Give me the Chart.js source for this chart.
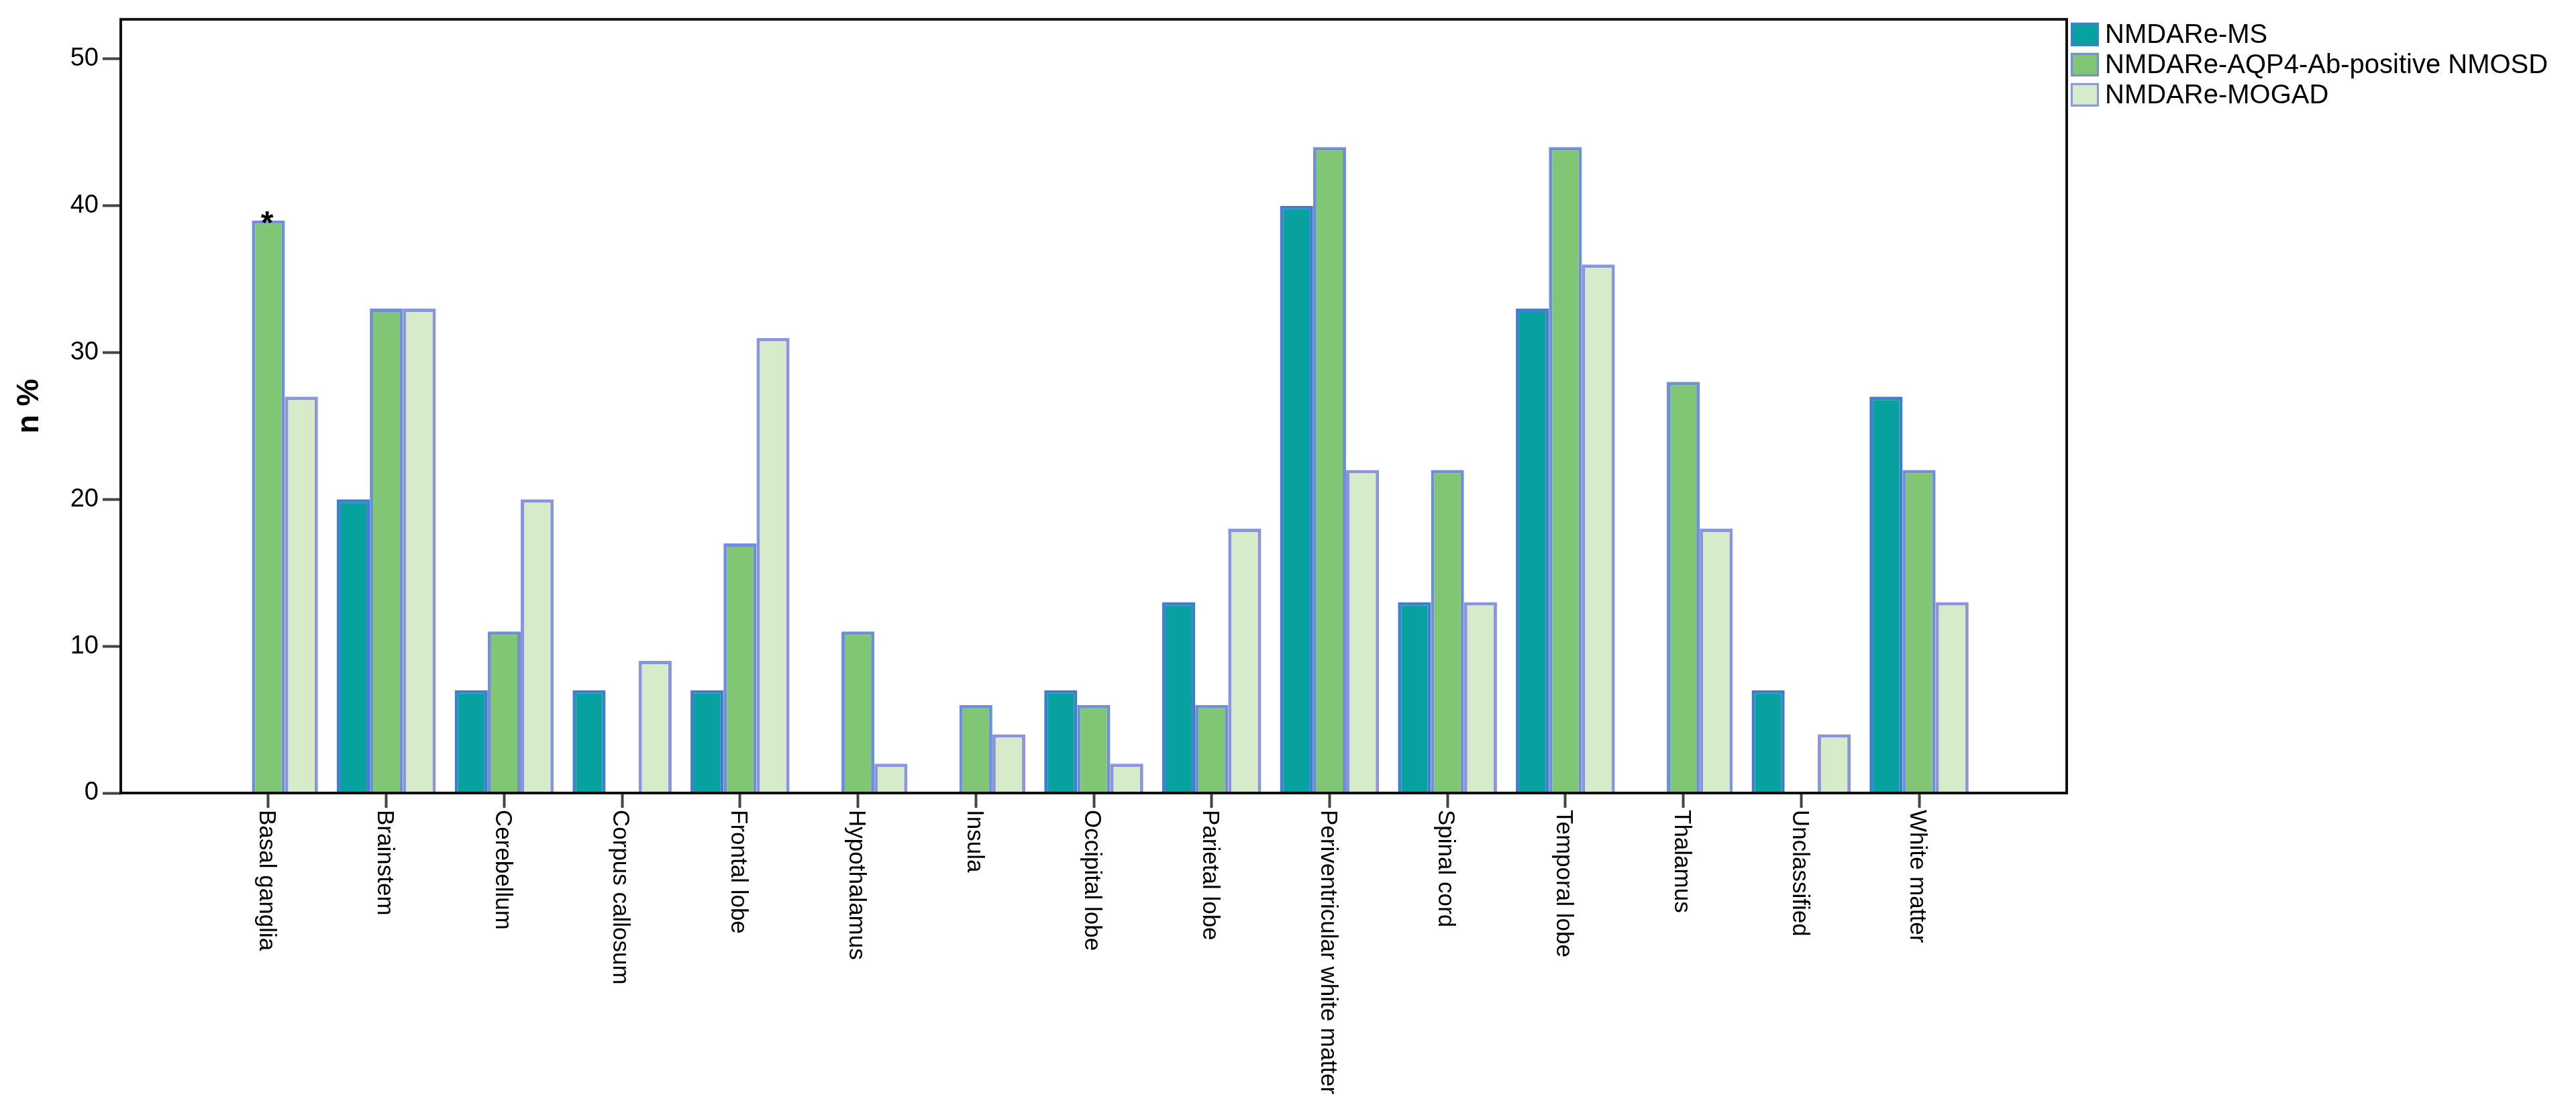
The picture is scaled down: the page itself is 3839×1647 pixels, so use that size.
<!DOCTYPE html>
<html>
<head>
<meta charset="utf-8">
<script src="https://cdn.jsdelivr.net/npm/chart.js@4.4.1/dist/chart.umd.min.js"></script>
<style>
  html, body { margin: 0; padding: 0; background: #fff; overflow: hidden; }
  #wrap { width: 3839px; height: 1647px; position: relative; }
</style>
</head>
<body>
<div id="wrap"><canvas id="lesion-chart"></canvas></div>
<script>
// Lesion location by group (n %)
const categories = [
  'Basal ganglia', 'Brainstem', 'Cerebellum', 'Corpus callosum', 'Frontal lobe',
  'Hypothalamus', 'Insula', 'Occipital lobe', 'Parietal lobe',
  'Periventricular white matter', 'Spinal cord', 'Temporal lobe', 'Thalamus',
  'Unclassified', 'White matter'
];
const seriesNames = ['NMDARe-MS', 'NMDARe-AQP4-Ab-positive NMOSD', 'NMDARe-MOGAD'];
const msValues    = [0, 20, 7, 7, 7, 0, 0, 7, 13, 40, 13, 33, 0, 7, 27];
const aqp4Values  = [39, 33, 11, 0, 17, 11, 6, 6, 6, 44, 22, 44, 28, 0, 22];
const mogadValues = [27, 33, 20, 9, 31, 2, 4, 2, 18, 22, 13, 36, 18, 4, 13];
const aqp4Marks   = ['*', '', '', '', '', '', '', '', '', '', '', '', '', '', ''];
const yTicks = [0, 10, 20, 30, 40, 50];

const FONT = "'Liberation Sans', Arial, sans-serif";
const fills   = ['#07a2a0', '#80c674', '#d5ebc9'];
const borders = ['#3f7fcf', '#6f8fd6', '#8c95dc'];

const toPoints = vals => vals.map((v, i) => ({ x: i, y: v }));

const decorPlugin = {
  id: 'decor',
  afterDraw(chart) {
    const { ctx, chartArea } = chart;
    const xs = chart.scales.x;
    ctx.save();

    // frame
    ctx.strokeStyle = '#111';
    ctx.lineWidth = 4;
    ctx.strokeRect(chartArea.left, chartArea.top,
      chartArea.right - chartArea.left, chartArea.bottom - chartArea.top);

    // rotated category labels (reading downwards)
    ctx.fillStyle = '#000';
    ctx.font = '35px ' + FONT;
    ctx.textAlign = 'left';
    ctx.textBaseline = 'middle';
    categories.forEach((c, i) => {
      const x = xs.getPixelForValue(i);
      ctx.save();
      ctx.translate(x - 3, chartArea.bottom + 25);
      ctx.rotate(Math.PI / 2);
      ctx.fillText(c, 0, 0);
      ctx.restore();
    });

    // significance marks
    const meta = chart.getDatasetMeta(1);
    ctx.font = 'bold 48px ' + FONT;
    ctx.textAlign = 'center';
    ctx.textBaseline = 'alphabetic';
    aqp4Marks.forEach((m, i) => {
      if (!m) return;
      const bar = meta.data[i];
      ctx.fillText(m, bar.x - 2, bar.y + 19);
    });

    // legend
    ctx.font = '40px ' + FONT;
    ctx.textAlign = 'left';
    ctx.textBaseline = 'middle';
    chart.data.datasets.forEach((ds, i) => {
      const bx = chartArea.right + 6;
      const by = chartArea.top + 5 + i * 45;
      ctx.fillStyle = ds.backgroundColor;
      ctx.fillRect(bx, by, 42, 35);
      ctx.strokeStyle = ds.borderColor;
      ctx.lineWidth = 3;
      ctx.strokeRect(bx + 1.5, by + 1.5, 39, 32);
      ctx.fillStyle = '#000';
      ctx.fillText(ds.label, bx + 51, by + 19);
    });

    ctx.restore();
  }
};

new Chart(document.getElementById('lesion-chart'), {
  type: 'bar',
  data: {
    datasets: [
      { label: seriesNames[0], data: toPoints(msValues) },
      { label: seriesNames[1], data: toPoints(aqp4Values) },
      { label: seriesNames[2], data: toPoints(mogadValues) }
    ].map((d, i) => Object.assign(d, {
      backgroundColor: fills[i],
      borderColor: borders[i],
      borderWidth: 5,
      categoryPercentage: 0.84,
      barPercentage: 1.0
    }))
  },
  options: {
    responsive: true,
    maintainAspectRatio: false,
    animation: false,
    devicePixelRatio: 1,
    layout: { padding: { top: 17, right: 759, bottom: 0, left: 0 } },
    plugins: {
      legend: { display: false },
      tooltip: { enabled: false }
    },
    scales: {
      x: {
        type: 'linear',
        min: -1.252,
        max: categories.length - 1 + 1.252,
        offset: false,
        ticks: { display: false, stepSize: 1, includeBounds: false },
        afterBuildTicks: s => {
          s.ticks = s.ticks.filter(t => t.value >= 0 && t.value <= categories.length - 1);
        },
        grid: { offset: false, drawOnChartArea: false, drawTicks: true, tickLength: 22, tickWidth: 4, tickColor: '#444' },
        border: { display: false },
        afterFit: s => { s.height = 465; }
      },
      y: {
        min: 0,
        max: 52.7,
        afterBuildTicks: s => { s.ticks = yTicks.map(v => ({ value: v })); },
        ticks: { color: '#000', font: { family: FONT, size: 38 }, padding: 6 },
        grid: { drawOnChartArea: false, drawTicks: true, tickLength: 27, tickWidth: 4, tickColor: '#444' },
        border: { display: false },
        title: {
          display: true,
          text: 'n %',
          color: '#000',
          font: { family: FONT, size: 46, weight: 'bold' },
          padding: { top: 17, bottom: 0 }
        },
        afterFit: s => { s.width = 180; }
      }
    }
  },
  plugins: [decorPlugin]
});
</script>
</body>
</html>
